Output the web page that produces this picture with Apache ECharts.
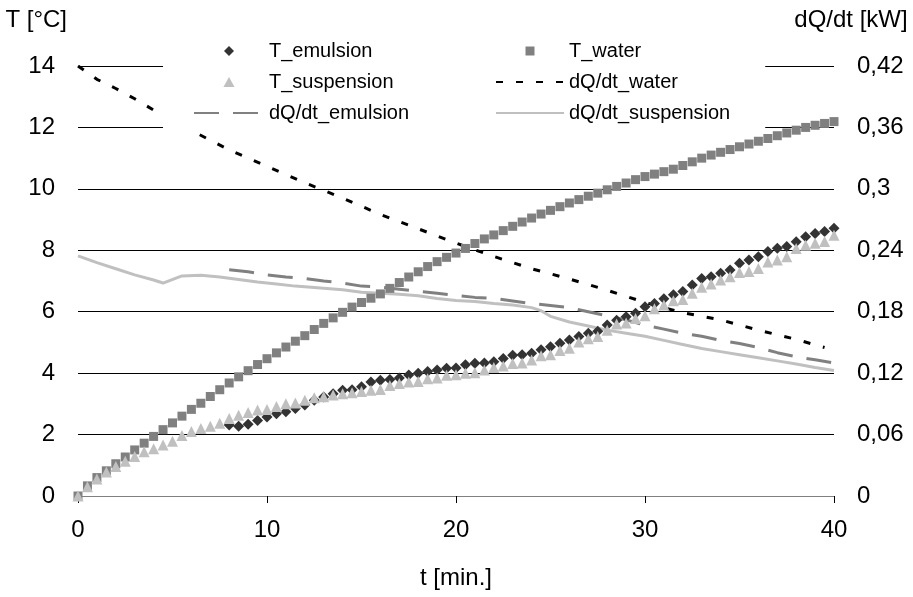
<!DOCTYPE html>
<html>
<head>
<meta charset="utf-8">
<script src="https://cdn.jsdelivr.net/npm/echarts@6/dist/echarts.min.js"></script>
<style>html,body{margin:0;padding:0;background:#fff}#c{width:913px;height:597px}</style>
</head>
<body>
<div id="c"></div>
<script>
// time stamps (min) of the measured temperatures
var tSamples = [0,0.5,1,1.5,2,2.5,3,3.5,4,4.5,5,5.5,6,6.5,7,7.5,8,8.5,9,9.5,10,10.5,11,11.5,12,12.5,13,13.5,14,14.5,15,15.5,16,16.5,17,17.5,18,18.5,19,19.5,20,20.5,21,21.5,22,22.5,23,23.5,24,24.5,25,25.5,26,26.5,27,27.5,28,28.5,29,29.5,30,30.5,31,31.5,32,32.5,33,33.5,34,34.5,35,35.5,36,36.5,37,37.5,38,38.5,39,39.5,40];
var tEmulsionSamples = [8,8.5,9,9.5,10,10.5,11,11.5,12,12.5,13,13.5,14,14.5,15,15.5,16,16.5,17,17.5,18,18.5,19,19.5,20,20.5,21,21.5,22,22.5,23,23.5,24,24.5,25,25.5,26,26.5,27,27.5,28,28.5,29,29.5,30,30.5,31,31.5,32,32.5,33,33.5,34,34.5,35,35.5,36,36.5,37,37.5,38,38.5,39,39.5,40];

var T_water = [0,0.33,0.6,0.82,1.05,1.27,1.5,1.72,1.94,2.16,2.38,2.6,2.82,3.02,3.24,3.46,3.68,3.88,4.08,4.28,4.47,4.66,4.85,5.04,5.22,5.42,5.62,5.8,5.98,6.15,6.3,6.44,6.58,6.76,6.95,7.13,7.3,7.47,7.63,7.77,7.91,8.06,8.22,8.37,8.5,8.64,8.78,8.92,9.05,9.18,9.3,9.42,9.54,9.65,9.76,9.86,9.97,10.08,10.19,10.3,10.4,10.48,10.56,10.64,10.76,10.88,11.0,11.1,11.19,11.28,11.37,11.46,11.55,11.64,11.73,11.82,11.91,12.0,12.07,12.13,12.19];
var T_suspension = [0,0.3,0.55,0.78,0.96,1.13,1.29,1.44,1.54,1.66,1.78,1.97,2.1,2.2,2.27,2.37,2.52,2.63,2.72,2.8,2.82,2.91,3.0,3.03,3.12,3.2,3.23,3.29,3.33,3.36,3.4,3.44,3.47,3.6,3.66,3.71,3.73,3.82,3.84,3.93,3.95,4.0,4.01,4.1,4.18,4.23,4.31,4.33,4.43,4.57,4.6,4.74,4.81,5.01,5.12,5.19,5.4,5.6,5.63,5.78,5.87,6.1,6.22,6.36,6.4,6.6,6.8,6.9,7.03,7.14,7.28,7.31,7.41,7.62,7.68,7.79,8.06,8.16,8.23,8.29,8.49];
var T_emulsion = [2.31,2.27,2.34,2.46,2.57,2.68,2.74,2.85,2.96,3.12,3.22,3.33,3.44,3.46,3.56,3.71,3.77,3.79,3.84,3.94,4.0,4.05,4.1,4.16,4.17,4.27,4.32,4.33,4.37,4.48,4.58,4.6,4.65,4.76,4.86,4.97,5.08,5.19,5.3,5.36,5.57,5.72,5.84,5.95,6.16,6.27,6.42,6.55,6.66,6.87,7.08,7.14,7.25,7.36,7.58,7.68,7.79,7.96,8.07,8.12,8.28,8.44,8.55,8.61,8.72];

// heat flow curves (right axis, kW)
var tQWater = [0,1,2,3,4,5,6,8,10,12,14,16,18,20,22,24,26,28,30,32,34,36,38,39.5];
var qWater = [0.42,0.407,0.398,0.388,0.377,0.367,0.357,0.338,0.322,0.306,0.291,0.275,0.261,0.247,0.234,0.222,0.212,0.201,0.189,0.179,0.172,0.162,0.153,0.145];
var tQEmulsion = [8,9,10,11,12,13,14,15,16,17,18,19,20,21,22,23,24,25,26,27,28,29,30,31,32,33,34,35,36,37,38,39,40];
var qEmulsion = [0.221,0.219,0.216,0.214,0.2125,0.21,0.208,0.205,0.204,0.202,0.2,0.198,0.196,0.194,0.193,0.1905,0.188,0.186,0.184,0.18,0.176,0.172,0.167,0.163,0.159,0.156,0.152,0.149,0.145,0.14,0.136,0.133,0.130];
var tQSuspension = [0,1,2,3,4,4.5,5.5,6.5,7.5,8.5,9.5,10.5,11.5,13,14,15,16,17,18,19,20,21,22,23,24,24.5,25,26,27,28,29,30,31,32,33,34,35,36,37,38,39,40];
var qSuspension = [0.2345,0.228,0.222,0.216,0.211,0.208,0.215,0.2155,0.214,0.2115,0.209,0.207,0.205,0.203,0.2015,0.199,0.198,0.197,0.1955,0.193,0.191,0.19,0.188,0.1865,0.184,0.181,0.1755,0.17,0.166,0.162,0.159,0.156,0.152,0.148,0.144,0.141,0.138,0.135,0.132,0.129,0.1255,0.1225];

var xTicks = {min: 0, max: 40, interval: 10};
var yLeftTicks = {min: 0, max: 14, interval: 2};
var yRightTicks = {min: 0, max: 0.42, interval: 0.06};

function pairs(xs, ys) { return ys.map(function (v, i) { return [xs[i], v]; }); }

var ICON_DIAMOND = 'path://M0,-1L1,0L0,1L-1,0Z';
var ICON_TRIANGLE = 'path://M0,-0.9L1,0.9L-1,0.9Z';
var ICON_SQUARE = 'path://M0,0L1,0L1,1L0,1Z';
var noSymbol = {color: 'rgba(0,0,0,0)', borderColor: 'rgba(0,0,0,0)', borderWidth: 0, opacity: 0};

var FONT = 'Liberation Sans';
var chart = echarts.init(document.getElementById('c'), null, {renderer: 'canvas'});
chart.setOption({
  animation: false,
  backgroundColor: '#fff',
  textStyle: {fontFamily: FONT},
  grid: {left: 78, right: 79, top: 66, bottom: 101, containLabel: false},
  legend: [
    {
      orient: 'vertical', left: 163, top: 31,
      padding: [10, 100, 7, 30],
      backgroundColor: '#fff',
      itemWidth: 70, itemHeight: 10, itemGap: 11,
      symbolKeepAspect: true,
      selectedMode: false,
      textStyle: {fontSize: 20, color: '#000', fontFamily: FONT, lineHeight: 20},
      data: [
        {name: 'T_emulsion', icon: ICON_DIAMOND},
        {name: 'T_suspension', icon: ICON_TRIANGLE},
        {name: 'dQ/dt_emulsion', itemStyle: noSymbol}
      ]
    },
    {
      orient: 'vertical', left: 480, top: 31,
      padding: [10, 35, 7, 15],
      backgroundColor: '#fff',
      itemWidth: 68, itemHeight: 9, itemGap: 11,
      symbolKeepAspect: true,
      selectedMode: false,
      textStyle: {fontSize: 20, color: '#000', fontFamily: FONT, lineHeight: 20},
      data: [
        {name: 'T_water', icon: ICON_SQUARE},
        {name: 'dQ/dt_water', itemStyle: noSymbol},
        {name: 'dQ/dt_suspension', itemStyle: noSymbol}
      ]
    }
  ],
  xAxis: {
    type: 'value', min: xTicks.min, max: xTicks.max, interval: xTicks.interval,
    name: 't [min.]', nameLocation: 'middle', nameGap: 70,
    nameTextStyle: {fontSize: 24, color: '#000', fontFamily: FONT},
    axisLine: {show: true, lineStyle: {color: '#808080', width: 1}},
    axisTick: {show: true, length: 7, lineStyle: {color: '#000', width: 1}},
    axisLabel: {fontSize: 24, color: '#000', margin: 22, fontFamily: FONT},
    splitLine: {show: false}
  },
  yAxis: [
    {
      type: 'value', min: yLeftTicks.min, max: yLeftTicks.max, interval: yLeftTicks.interval,
      name: 'T [°C]', nameLocation: 'end', nameGap: 34,
      nameTextStyle: {fontSize: 24, color: '#000', fontFamily: FONT, align: 'right', padding: [0, 11, 0, 0]},
      axisLine: {show: false}, axisTick: {show: false},
      axisLabel: {fontSize: 24, color: '#000', margin: 23, fontFamily: FONT},
      splitLine: {show: true, lineStyle: {color: '#000', width: 1}}
    },
    {
      type: 'value', min: yRightTicks.min, max: yRightTicks.max, interval: yRightTicks.interval,
      name: 'dQ/dt [kW]', nameLocation: 'end', nameGap: 34,
      nameTextStyle: {fontSize: 24, color: '#000', fontFamily: FONT, align: 'center', padding: [0, 0, 0, 34]},
      axisLine: {show: false}, axisTick: {show: false},
      axisLabel: {
        fontSize: 24, color: '#000', margin: 23, fontFamily: FONT,
        formatter: function (v) { return String(+v.toFixed(4)).replace('.', ','); }
      },
      splitLine: {show: false}
    }
  ],
  series: [
    {
      name: 'dQ/dt_suspension', type: 'line', yAxisIndex: 1, symbol: 'none',
      data: pairs(tQSuspension, qSuspension),
      lineStyle: {color: '#c0c0c0', width: 3}, itemStyle: {color: '#c0c0c0'}, z: 2
    },
    {
      name: 'dQ/dt_emulsion', type: 'line', yAxisIndex: 1, symbol: 'none',
      data: pairs(tQEmulsion, qEmulsion),
      lineStyle: {color: '#808080', width: 3, type: [25, 14]}, itemStyle: {color: '#808080'}, z: 2
    },
    {
      name: 'dQ/dt_water', type: 'line', yAxisIndex: 1, symbol: 'none',
      data: pairs(tQWater, qWater),
      lineStyle: {color: '#000', width: 3, type: [7, 13]}, itemStyle: {color: '#000'}, z: 2
    },
    {
      name: 'T_water', type: 'scatter', yAxisIndex: 0, symbol: 'rect', symbolSize: 9,
      data: pairs(tSamples, T_water), itemStyle: {color: '#808080', opacity: 1}, z: 3
    },
    {
      name: 'T_emulsion', type: 'scatter', yAxisIndex: 0, symbol: 'diamond', symbolSize: 11,
      data: pairs(tEmulsionSamples, T_emulsion), itemStyle: {color: '#333333', opacity: 1}, z: 3
    },
    {
      name: 'T_suspension', type: 'scatter', yAxisIndex: 0, symbol: 'triangle', symbolSize: 11,
      data: pairs(tSamples, T_suspension), itemStyle: {color: '#c0c0c0', opacity: 1}, z: 3
    }
  ]
});
</script>
</body>
</html>
